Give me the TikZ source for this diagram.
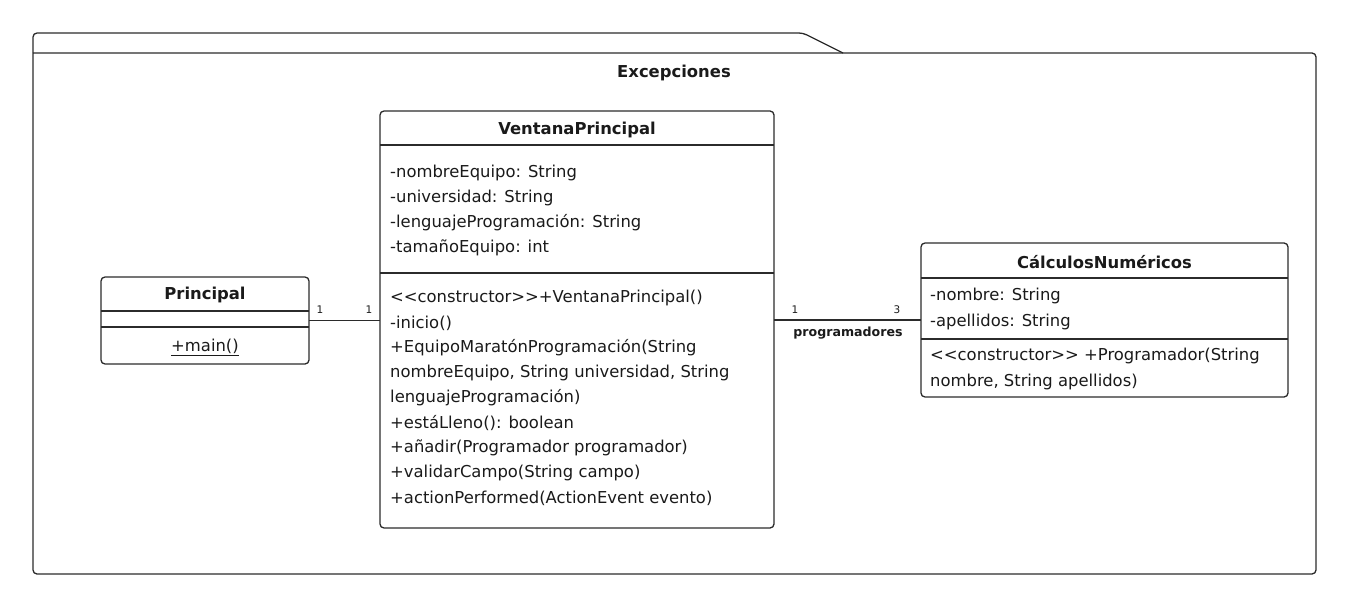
\documentclass[tikz,border=0pt]{standalone}
\usepackage{fontspec}
\setmainfont{DejaVu Sans}
\usetikzlibrary{calc}
\definecolor{ln}{HTML}{2B2B2B}
\definecolor{tx}{HTML}{1A1A1A}
\begin{document}
\begin{tikzpicture}[x=1pt,y=-1pt,
  box/.style={draw=ln,line width=1.3pt,rounded corners=4pt,minimum width=#1,inner sep=0pt,outer sep=0pt},
  sepline/.style={draw=ln,line width=1.3pt},
  txt/.style={anchor=west,inner sep=0pt,text=tx,font=\fontsize{16.4}{18}\selectfont},
  ttl/.style={anchor=center,inner sep=0pt,text=tx,font=\fontsize{16.4}{18}\selectfont\bfseries},
  mult/.style={anchor=center,inner sep=0pt,text=tx,font=\fontsize{10.5}{12}\selectfont},
  conn/.style={draw=ln,line width=1.3pt}]
\useasboundingbox (0,0) rectangle (1349,607);
% package frame
\draw[ln,line width=1.3pt,rounded corners=4pt] (33,53) -- (33,33) -- (803,33) [sharp corners]-- (843,53);
\draw[ln,line width=1.3pt,rounded corners=4pt] (33,53) -- (33,574) -- (1316,574) -- (1316,53) -- (33,53);
\node[ttl] (pkg) at (674,73) {Excepciones};
% Principal
\node[box=208pt,minimum height=87pt] (pr) at (205,320.5) {};
\node[ttl] (prt) at (205,295) {Principal};
\draw[sepline] (101,311) -- (309,311);
\draw[sepline] (101,327) -- (309,327);
\node[txt,anchor=center] (prm) at (205,347) {\underline{+main()}};
% VentanaPrincipal
\node[box=394pt,minimum height=417pt] (vp) at (577,319.5) {};
\node[ttl] (vpt) at (577,130) {VentanaPrincipal};
\draw[sepline] (380,145) -- (774,145);
\draw[sepline] (380,273) -- (774,273);
\node[txt] (a1) at (390,173) {-nombreEquipo: String};
\node[txt] (a2) at (390,198) {-universidad: String};
\node[txt] (a3) at (390,223) {-lenguajeProgramación: String};
\node[txt] (a4) at (390,248) {-tamañoEquipo: int};
\node[txt] (m1) at (390,298) {<{}<constructor>{}>+VentanaPrincipal()};
\node[txt] (m2) at (390,323) {-inicio()};
\node[txt] (m3) at (390,348) {+EquipoMaratónProgramación(String};
\node[txt] (m4) at (390,373) {nombreEquipo, String universidad, String};
\node[txt] (m5) at (390,398) {lenguajeProgramación)};
\node[txt] (m6) at (390,423) {+estáLleno(): boolean};
\node[txt] (m7) at (390,448) {+añadir(Programador programador)};
\node[txt] (m8) at (390,473) {+validarCampo(String campo)};
\node[txt] (m9) at (390,498) {+actionPerformed(ActionEvent evento)};
% CalculosNumericos
\node[box=367pt,minimum height=154pt] (cn) at (1104.5,320) {};
\node[ttl] (cnt) at (1104.5,262) {CálculosNuméricos};
\draw[sepline] (921,278) -- (1288,278);
\draw[sepline] (921,339) -- (1288,339);
\node[txt] (c1) at (930,296) {-nombre: String};
\node[txt] (c2) at (930,322) {-apellidos: String};
\node[txt] (c3) at (930,356) {<{}<constructor>{}> +Programador(String};
\node[txt] (c4) at (930,382) {nombre, String apellidos)};
% connectors
\draw[conn] (pr.east) -- (vp.west |- pr.east);
\node[mult] (l1) at (320,310) {1};
\node[mult] (l2) at (369,310) {1};
\draw[conn] (vp.east |- cn.west) -- (cn.west);
\node[mult] (l3) at (795,310) {1};
\node[mult] (l4) at (897,310) {3};
\node[mult,font=\fontsize{12.6}{14}\selectfont\bfseries] (l5) at (848,333) {programadores};
\end{tikzpicture}
\end{document}
